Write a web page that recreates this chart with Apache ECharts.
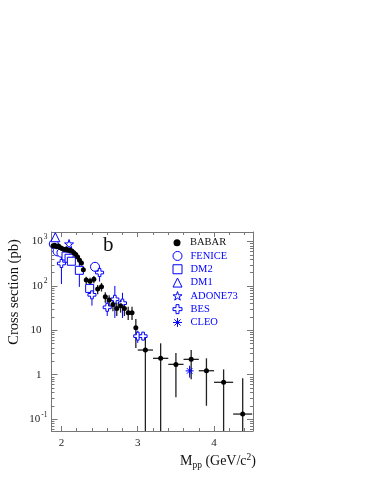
<!DOCTYPE html>
<html><head><meta charset="utf-8">
<script src="https://cdn.jsdelivr.net/npm/echarts@6/dist/echarts.min.js"></script>
<style>html,body{margin:0;padding:0;background:#fff}#c{width:374px;height:484px}</style>
</head><body><div id="c"></div>
<script>
// ---------------- DATA ----------------
const babarMass = [1.89,1.9125,1.9375,1.9625,1.9875,2.0125,2.0375,2.0625,2.0875,2.1125,2.1375,2.1625,2.1875,2.2125,2.2375,2.2625,2.2875,
  2.325,2.375,2.425,2.475,2.525,2.575,2.625,2.675,2.725,2.775,2.825,2.875,2.925,2.975,
  3.1,3.3,3.5,3.7,3.9,4.125,4.375];
const babarXsec = [800,830,760,790,720,690,660,680,640,640,610,560,510,450,380,330,232,
  136,128,141,85,96,57,48,38,31,36,31,25,25,11.5,
  3.6,2.34,1.71,2.22,1.23,0.675,0.13];
const babarLow  = [690,730,670,700,640,610,590,610,570,575,545,500,455,400,335,290,200,
  110,103,115,65,75,42,35,27,21,25,21,17,17,4,
  0.001,0.001,0.31,0.79,0.2,0.001,0.001];
const babarHigh = [910,930,850,880,800,770,735,750,710,705,675,620,565,500,425,370,265,
  162,153,167,105,117,72,62,50,42,48,42,34,34,18,
  7.0,5.1,3.1,3.6,2.34,1.32,0.83];
const babarHalfBin = [0.0125,0.0125,0.0125,0.0125,0.0125,0.0125,0.0125,0.0125,0.0125,0.0125,0.0125,0.0125,0.0125,0.0125,0.0125,0.0125,0.0125,
  0.025,0.025,0.025,0.025,0.025,0.025,0.025,0.025,0.025,0.025,0.025,0.025,0.025,0.025,
  0.1,0.1,0.1,0.1,0.1,0.125,0.125];

const feniceMass = [1.90, 1.95, 2.00, 2.44];
const feniceXsec = [880, 600, 560, 270];
const feniceLow  = [700, 470, 460, 210];
const feniceHigh = [1060, 730, 660, 340];

const dm2Mass = [2.06, 2.10, 2.13, 2.235, 2.37];
const dm2Xsec = [470, 420, 360, 225, 88];
const dm2Low  = [395, 350, 300, 95, 70];
const dm2High = [545, 490, 420, 355, 106];

const dm1Mass = [1.92];
const dm1Xsec = [1250];
const dm1Low  = [1000];
const dm1High = [1550];

const adoneMass = [2.1];
const adoneXsec = [880];
const adoneLow  = [720];
const adoneHigh = [1040];

const besMass = [2.0, 2.4, 2.5, 2.6, 2.7, 2.8, 3.0, 3.07];
const besXsec = [320, 63, 200, 33, 50, 41, 7.4, 7.4];
const besLow  = [110, 36, 125, 21, 19, 19, 5.2, 6.2];
const besHigh = [570, 95, 280, 46, 100, 70, 9.8, 8.8];

const cleoMass = [3.68];
const cleoXsec = [1.22];
const cleoLow  = [0.86];
const cleoHigh = [1.6];

const xMajorTicks = [2, 3, 4];
const xMinorTicks = [2.2,2.4,2.6,2.8,3.2,3.4,3.6,3.8,4.2,4.4];
const yMajorTicks = [0.1, 1, 10, 100, 1000];
const yMinorTicks = [0.06,0.07,0.08,0.09,0.2,0.3,0.4,0.5,0.6,0.7,0.8,0.9,2,3,4,5,6,7,8,9,
  20,30,40,50,60,70,80,90,200,300,400,500,600,700,800,900];

// ---------------- CHART ----------------
const X_MIN = 1.87, X_MAX = 4.51, Y_MIN = 0.054, Y_MAX = 1640;
const BLUE = '#0000ff', AX = '#777', SERIF = '"Liberation Serif", "DejaVu Serif", serif';

function rows(m, y, lo, hi, hw) {
  return m.map((v, i) => [v, y[i], lo[i], hi[i], v - (hw ? hw[i] : 0), v + (hw ? hw[i] : 0)]);
}
function errSeries(name, data, color, width) {
  return {
    type: 'custom', name: name + ' err', data: data, silent: true, z: 1,
    encode: { x: 0, y: 1 },
    renderItem: function (params, api) {
      const x = api.value(0), y = api.value(1), lo = api.value(2), hi = api.value(3), xl = api.value(4), xr = api.value(5);
      const cy = v => Math.min(Math.max(v, Y_MIN), Y_MAX);
      const cx = v => Math.min(Math.max(v, X_MIN), X_MAX);
      const a = api.coord([x, cy(lo)]), b = api.coord([x, cy(hi)]);
      const ch = [{ type: 'line', shape: { x1: a[0], y1: a[1], x2: b[0], y2: b[1] }, style: { stroke: color, lineWidth: width } }];
      if (xr > xl) {
        const c = api.coord([cx(xl), y]), d = api.coord([cx(xr), y]);
        ch.push({ type: 'line', shape: { x1: c[0], y1: c[1], x2: d[0], y2: d[1] }, style: { stroke: color, lineWidth: width } });
      }
      return { type: 'group', children: ch };
    }
  };
}
function markSeries(name, data, symbol, size, fill, stroke, z) {
  return {
    type: 'scatter', name: name, data: data.map(r => [r[0], r[1]]), symbol: symbol, symbolSize: size,
    itemStyle: { color: fill, borderColor: stroke, borderWidth: stroke ? 1 : 0, opacity: 1 },
    emphasis: { disabled: true }, silent: true, z: z || 3
  };
}

const STAR = 'path://M0,-1L0.223,-0.307L0.951,-0.309L0.361,0.117L0.588,0.809L0,0.38L-0.588,0.809L-0.361,0.117L-0.951,-0.309L-0.223,-0.307Z';
const CROSS = 'path://M-0.33,-1L0.33,-1L0.33,-0.33L1,-0.33L1,0.33L0.33,0.33L0.33,1L-0.33,1L-0.33,0.33L-1,0.33L-1,-0.33L-0.33,-0.33Z';
const ASTER = 'path://M0,-1L0,1M-1,0L1,0M-0.7,-0.7L0.7,0.7M-0.7,0.7L0.7,-0.7';

const dBabar = rows(babarMass, babarXsec, babarLow, babarHigh, babarHalfBin);
const dFenice = rows(feniceMass, feniceXsec, feniceLow, feniceHigh);
const dDm2 = rows(dm2Mass, dm2Xsec, dm2Low, dm2High);
const dDm1 = rows(dm1Mass, dm1Xsec, dm1Low, dm1High);
const dAdone = rows(adoneMass, adoneXsec, adoneLow, adoneHigh);
const dBes = rows(besMass, besXsec, besLow, besHigh);
const dCleo = rows(cleoMass, cleoXsec, cleoLow, cleoHigh);

function xAx(pos, ticks, len, labels, line) {
  return {
    type: 'value', min: X_MIN, max: X_MAX, position: pos,
    axisLine: { show: line, onZero: false, lineStyle: { color: AX, width: 1 } },
    axisTick: { show: true, inside: true, length: len, customValues: ticks, lineStyle: { color: AX, width: 1 } },
    axisLabel: labels ? { show: true, customValues: ticks, margin: 7, fontFamily: SERIF, fontSize: 11, color: '#222' } : { show: false },
    splitLine: { show: false }, minorTick: { show: false }
  };
}
function yAx(pos, ticks, len, labels, line) {
  return {
    type: 'log', logBase: 10, min: Y_MIN, max: Y_MAX, position: pos,
    axisLine: { show: line, onZero: false, lineStyle: { color: AX, width: 1 } },
    axisTick: { show: true, inside: true, length: len, customValues: ticks, lineStyle: { color: AX, width: 1 } },
    axisLabel: labels ? {
      show: true, customValues: ticks, margin: 4, fontFamily: SERIF, fontSize: 11, color: '#222',
      formatter: function (v) {
        const e = Math.round(Math.log10(v));
        if (e === 0) return '{p|1}';
        if (e === 1) return '{p|10}';
        return '{b|10}{s|' + e + '}';
      },
      rich: {
        b: { fontFamily: SERIF, fontSize: 11, color: '#222' },
        p: { fontFamily: SERIF, fontSize: 11, color: '#222', padding: [0, 6, 0, 0] },
        s: { fontFamily: SERIF, fontSize: 7.5, color: '#222', padding: [0, 0, 9, 1] }
      }
    } : { show: false },
    splitLine: { show: false }, minorTick: { show: false }
  };
}

const chart = echarts.init(document.getElementById('c'), null, { renderer: 'canvas' });
chart.setOption({
  animation: false,
  backgroundColor: '#fff',
  grid: { left: 51.5, top: 232, right: 121, bottom: 53, containLabel: false, outerBoundsMode: 'none' },
  xAxis: [
    xAx('bottom', xMajorTicks, 5, true, true),
    xAx('bottom', xMinorTicks, 3, false, false),
    xAx('top', xMajorTicks, 5, false, true),
    xAx('top', xMinorTicks, 3, false, false)
  ],
  yAxis: [
    yAx('left', yMajorTicks, 6, true, true),
    yAx('left', yMinorTicks, 3, false, false),
    yAx('right', yMajorTicks, 6, false, true),
    yAx('right', yMinorTicks, 3, false, false)
  ],
  legend: [
    { data: [{ name: 'BABAR', textStyle: { color: '#111' } }], orient: 'vertical', left: 173.5, top: 236, padding: 0,
      itemWidth: 7, itemHeight: 7, itemGap: 0, selectedMode: false,
      itemStyle: { borderWidth: 0 },
      textStyle: { fontFamily: SERIF, fontSize: 10.5, color: '#111', lineHeight: 13.3, padding: [0, 0, 0, 4.5] } },
    { data: ['FENICE', 'DM2', 'DM1', 'ADONE73', 'BES', 'CLEO'].map(n => ({ name: n, textStyle: { color: BLUE } })),
      orient: 'vertical', left: 172.5, top: 249.3, padding: 0,
      itemWidth: 9, itemHeight: 9, itemGap: 0, selectedMode: false,
      itemStyle: { borderWidth: 1 },
      textStyle: { fontFamily: SERIF, fontSize: 10.5, color: BLUE, lineHeight: 13.3, padding: [0, 0, 0, 3.5] } }
  ],
  graphic: [
    { type: 'text', left: 103, top: 235, style: { text: 'b', fontFamily: SERIF, fontSize: 21, fill: '#111' } },
    { type: 'text', x: 14, y: 292, rotation: Math.PI / 2,
      style: { text: 'Cross section (pb)', fontFamily: SERIF, fontSize: 14.5, fill: '#111', align: 'center', verticalAlign: 'middle' } },
    { type: 'text', x: 256, y: 461,
      style: { text: '{b|M}{sub|pp}{b| (GeV/c}{sup|2}{b|)}', align: 'right', verticalAlign: 'middle',
        rich: {
          b: { fontFamily: SERIF, fontSize: 14, fill: '#111', color: '#111' },
          sub: { fontFamily: SERIF, fontSize: 9.5, fill: '#111', color: '#111', padding: [8, 0, 0, 0] },
          sup: { fontFamily: SERIF, fontSize: 9.5, fill: '#111', color: '#111', padding: [0, 0, 8, 0] }
        } } }
  ],
  series: [
    errSeries('FENICE', dFenice, BLUE, 1),
    errSeries('DM2', dDm2, BLUE, 1),
    errSeries('DM1', dDm1, BLUE, 1),
    errSeries('ADONE73', dAdone, BLUE, 1),
    errSeries('BES', dBes, BLUE, 1),
    errSeries('CLEO', dCleo, BLUE, 1),
    errSeries('BABAR', dBabar, '#222', 1.3),
    markSeries('FENICE', dFenice, 'circle', 9, '#fff', BLUE),
    markSeries('DM2', dDm2, 'rect', 8, '#fff', BLUE),
    markSeries('DM1', dDm1, 'triangle', 9, '#fff', BLUE),
    markSeries('ADONE73', dAdone, STAR, 9, '#fff', BLUE),
    markSeries('BES', dBes, CROSS, 8, '#fff', BLUE),
    markSeries('CLEO', dCleo, ASTER, 8, 'rgba(0,0,0,0)', BLUE),
    markSeries('BABAR', dBabar, 'circle', 5, '#000', null, 5)
  ]
});
</script></body></html>
